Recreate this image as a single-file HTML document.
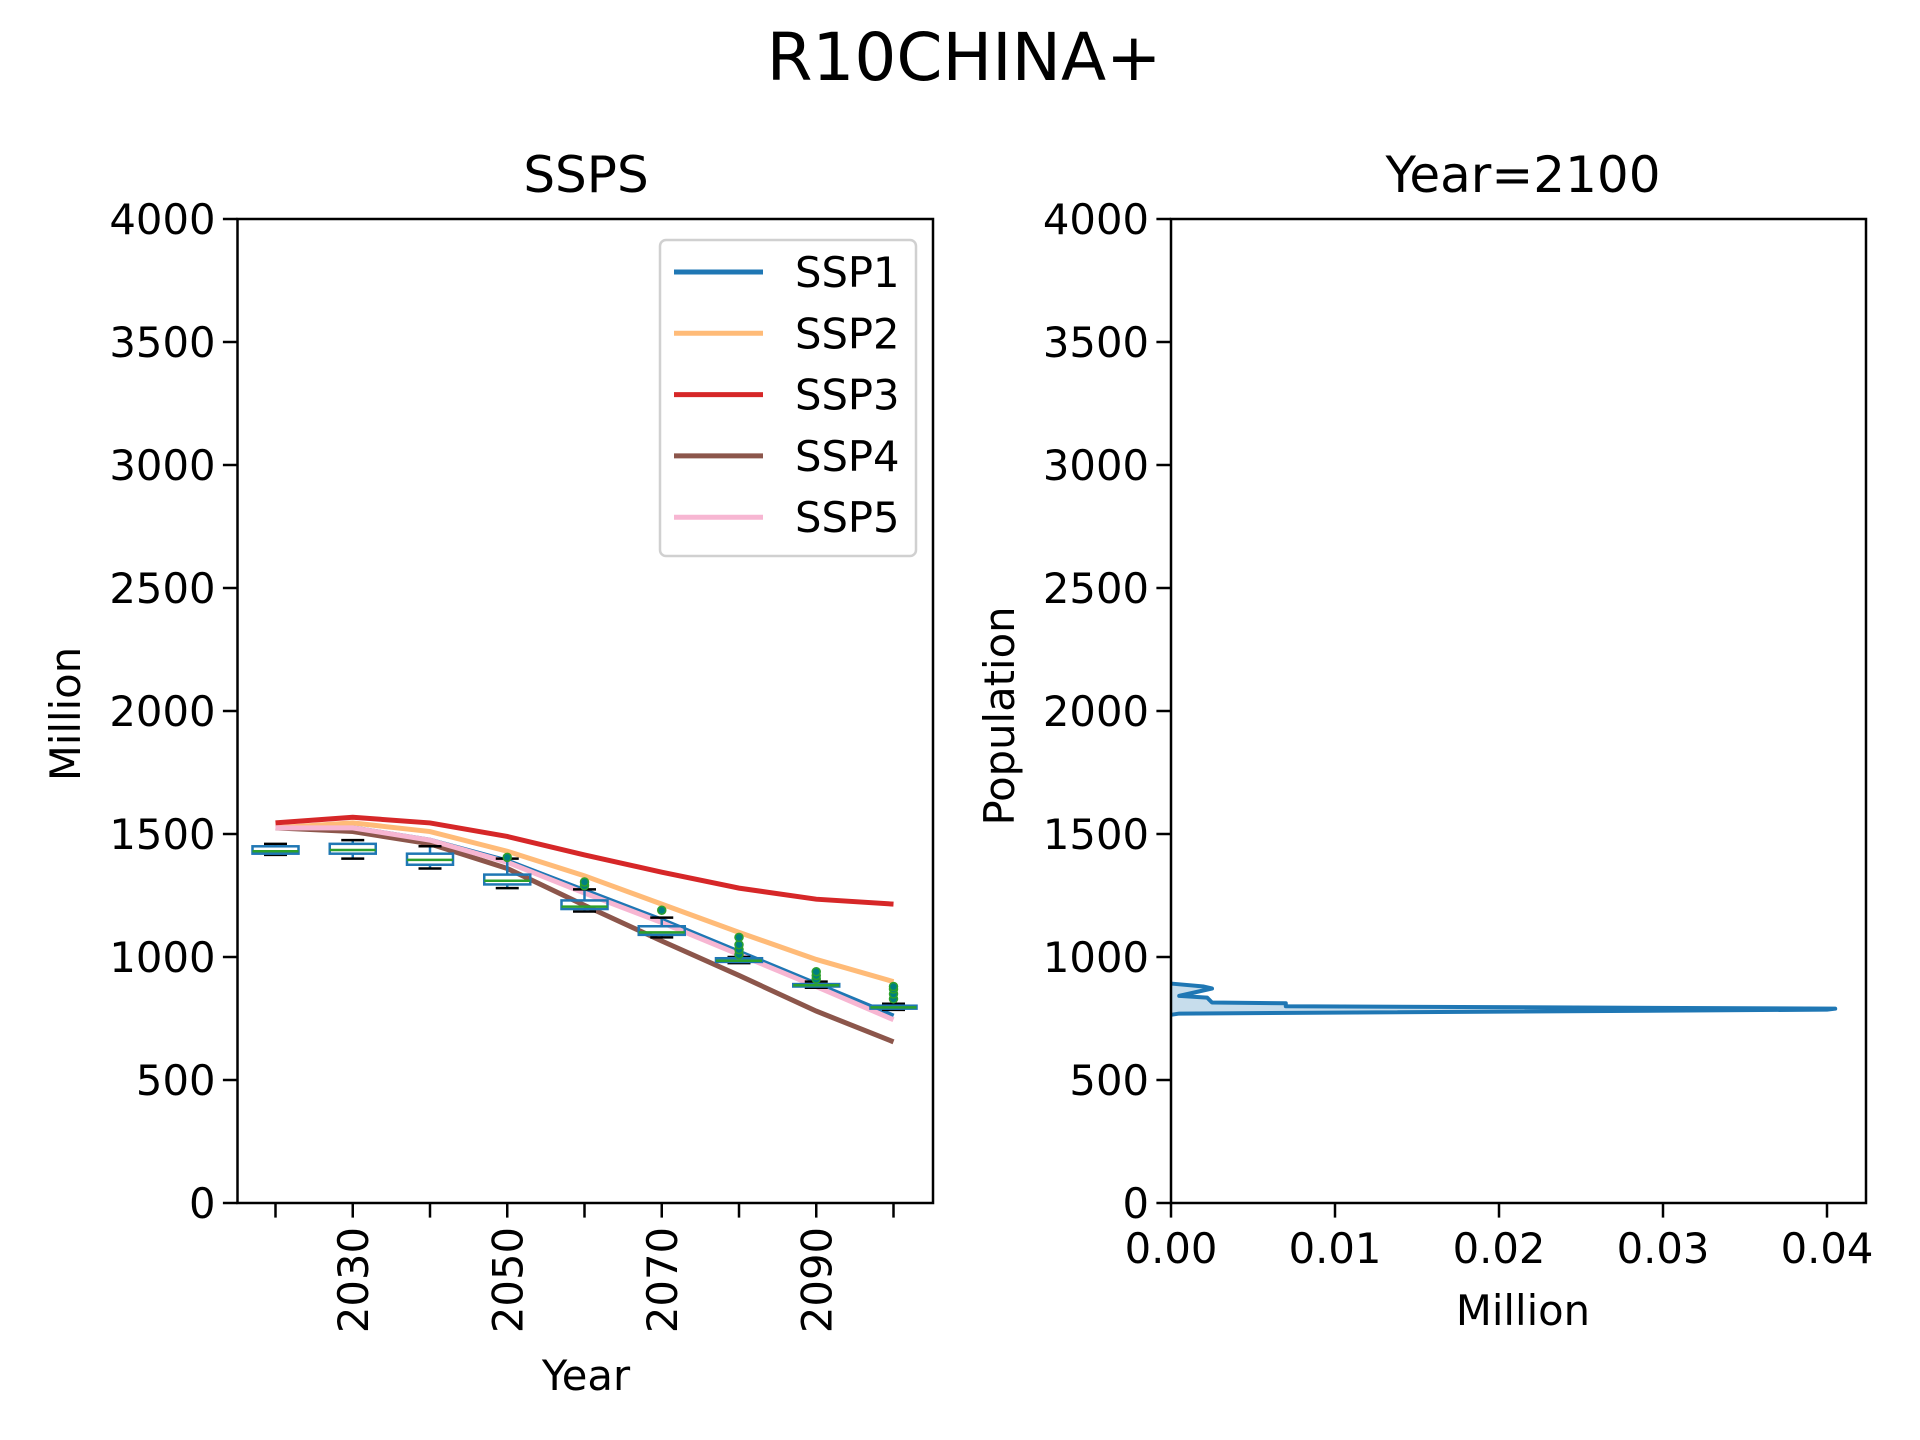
<!DOCTYPE html>
<html><head><meta charset="utf-8"><style>
body{margin:0;background:#fff}
svg{display:block;font-family:"DejaVu Sans","Liberation Sans",sans-serif}
</style></head><body>
<svg id="chart" width="1920" height="1440" viewBox="0 0 1920 1440">
<text x="964" y="80" font-size="66" text-anchor="middle">R10CHINA+</text>
<g id="left"></g>
<g id="right"></g>
</svg>
<script>
const years=[2020,2030,2040,2050,2060,2070,2080,2090,2100];
const yTicks=[0,500,1000,1500,2000,2500,3000,3500,4000];
const seriesNames=["SSP1","SSP2","SSP3","SSP4","SSP5"];
const seriesColors=["#1f77b4","#ffbb78","#d62728","#8c564b","#f7b6d2"];
const ssp1=[1525,1525,1475,1390,1270,1150,1020,890,760];
const ssp2=[1525,1545,1510,1430,1330,1215,1100,990,900];
const ssp3=[1545,1568,1545,1490,1415,1345,1280,1235,1215];
const ssp4=[1525,1510,1460,1360,1210,1065,925,780,655];
const ssp5=[1525,1525,1475,1385,1260,1140,1010,880,745];
const boxQ1=[1420,1420,1375,1295,1195,1090,980,880,790];
const boxMed=[1430,1435,1395,1310,1205,1100,985,885,795];
const boxQ3=[1450,1460,1420,1335,1230,1125,995,890,802];
const whiskLo=[1415,1400,1360,1280,1185,1080,975,875,785];
const whiskHi=[1460,1475,1450,1400,1275,1160,1000,900,810];
const outliers=[[],[],[],[1405],[1290,1305],[1190],[1010,1030,1050,1080],[910,925,940],[830,850,870,880]];
const kdeX=[0,0.0005,0.040,0.0405,0.007,0.007,0.0025,0.0022,0.0005,0.0025,0.002,0.0];
const kdeY=[765,770,786,790,800,812,815,835,842,872,880,892];
const xTicksR=[0,0.01,0.02,0.03,0.04];

const NS="http://www.w3.org/2000/svg";
function mk(p,tag,a,txt){const e=document.createElementNS(NS,tag);for(const k in a)e.setAttribute(k,a[k]);if(txt!==undefined)e.textContent=txt;p.appendChild(e);return e;}
const yTop=219,yBot=1203;
const yS=v=>yBot-(v/4000)*(yBot-yTop);
const L=document.getElementById('left'),R=document.getElementById('right');
const lx0=237.5,lx1=933;
const xS=i=>275.5+i*77.25;
function yAxis(g,x0){
  yTicks.forEach(t=>{
    const tk=mk(g,'line',{x1:x0-14.6,x2:x0,y1:yS(t),y2:yS(t),stroke:'#000','stroke-width':2.5});
    
    
    const lb=mk(g,'text',{x:x0-22,y:yS(t)+15,'font-size':41.7,'text-anchor':'end'},t);
    
    
  });
}
yAxis(L,lx0);
[ssp1,ssp2,ssp3,ssp4,ssp5].forEach((s,k)=>{
  const pl=mk(L,'polyline',{points:s.map((v,i)=>xS(i)+','+yS(v)).join(' '),fill:'none',stroke:seriesColors[k],'stroke-width':5});
  
  
});
years.forEach((y,i)=>{
  const cx=xS(i),w=46;
  const g=mk(L,'g',{});
  
  
  mk(g,'line',{x1:cx,x2:cx,y1:yS(boxQ3[i]),y2:yS(whiskHi[i]),stroke:'#1f77b4','stroke-width':2.5});
  mk(g,'line',{x1:cx,x2:cx,y1:yS(boxQ1[i]),y2:yS(whiskLo[i]),stroke:'#1f77b4','stroke-width':2.5});
  mk(g,'line',{x1:cx-w/4,x2:cx+w/4,y1:yS(whiskHi[i]),y2:yS(whiskHi[i]),stroke:'#000','stroke-width':2.5});
  mk(g,'line',{x1:cx-w/4,x2:cx+w/4,y1:yS(whiskLo[i]),y2:yS(whiskLo[i]),stroke:'#000','stroke-width':2.5});
  mk(g,'rect',{x:cx-w/2,y:yS(boxQ3[i]),width:w,height:Math.max(2,yS(boxQ1[i])-yS(boxQ3[i])),fill:'none',stroke:'#1f77b4','stroke-width':2.5});
  mk(g,'line',{x1:cx-w/2,x2:cx+w/2,y1:yS(boxMed[i]),y2:yS(boxMed[i]),stroke:'#2ca02c','stroke-width':2.5});
  outliers[i].forEach(o=>{const c=mk(g,'circle',{cx:cx,cy:yS(o),r:4,fill:'#008080',stroke:'#2ca02c','stroke-width':1.5});
    
    });
});
years.forEach((y,i)=>{
  const t=mk(L,'line',{x1:xS(i),x2:xS(i),y1:yBot,y2:yBot+14.6,stroke:'#000','stroke-width':2.5});
  
  
  if(i%2===1){
    const lb=mk(L,'text',{transform:`translate(${xS(i)+15},${yBot+24}) rotate(-90)`,'font-size':41.7,'text-anchor':'end'},y);
    
    
  }
});
const fr=mk(L,'rect',{x:lx0,y:yTop,width:lx1-lx0,height:yBot-yTop,fill:'none',stroke:'#000','stroke-width':2.5});


const lg=mk(L,'g',{});


mk(lg,'rect',{x:660,y:240,width:256,height:316,rx:6,fill:'#fff','fill-opacity':0.8,stroke:'#d0d0d0','stroke-width':2.5});
seriesNames.forEach((n,k)=>{
  const yy=272+k*61.3;
  const e=mk(lg,'g',{});
  
  
  mk(e,'line',{x1:674,x2:763,y1:yy,y2:yy,stroke:seriesColors[k],'stroke-width':5});
  mk(e,'text',{x:795,y:yy+15,'font-size':41.7},n);
});
let t;
t=mk(L,'text',{x:586,y:192,'font-size':50,'text-anchor':'middle'},'SSPS');

t=mk(L,'text',{transform:'translate(80,714) rotate(-90)','font-size':41.7,'text-anchor':'middle'},'Million');

t=mk(L,'text',{x:586,y:1390,'font-size':41.7,'text-anchor':'middle'},'Year');


const rx0=1171,rx1=1866;
const xR=v=>rx0+v/0.04*(1827-rx0);
yAxis(R,rx0);
const pts=kdeX.map((v,i)=>xR(v)+','+yS(kdeY[i])).join(' ');
const kf=mk(R,'polygon',{points:pts,fill:'#1f77b4','fill-opacity':0.25,stroke:'none'});

const kl=mk(R,'polyline',{points:pts,fill:'none',stroke:'#1f77b4','stroke-width':4,'stroke-linejoin':'round'});

xTicksR.forEach(v=>{
  const tk=mk(R,'line',{x1:xR(v),x2:xR(v),y1:yBot,y2:yBot+14.6,stroke:'#000','stroke-width':2.5});
  
  
  const lb=mk(R,'text',{x:xR(v),y:yBot+60,'font-size':41.7,'text-anchor':'middle'},v.toFixed(2));
  
  
});
const fr2=mk(R,'rect',{x:rx0,y:yTop,width:rx1-rx0,height:yBot-yTop,fill:'none',stroke:'#000','stroke-width':2.5});


t=mk(R,'text',{x:1523,y:192,'font-size':50,'text-anchor':'middle'},'Year=2100');

t=mk(R,'text',{transform:'translate(1014,716) rotate(-90)','font-size':41.7,'text-anchor':'middle'},'Population');

t=mk(R,'text',{x:1523,y:1325,'font-size':41.7,'text-anchor':'middle'},'Million');

</script>
</body></html>
